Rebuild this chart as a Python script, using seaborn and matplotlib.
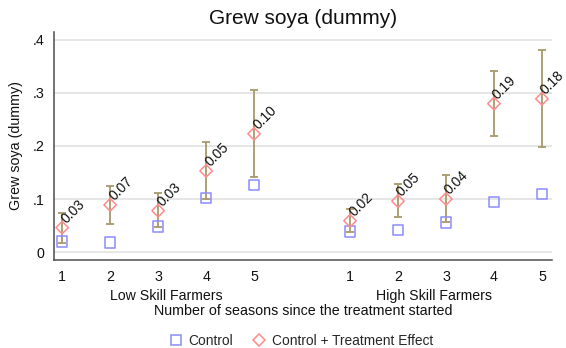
import matplotlib
matplotlib.use("Agg")
import matplotlib.pyplot as plt
import matplotlib.transforms as mtransforms
from matplotlib.markers import MarkerStyle
from matplotlib.lines import Line2D
import numpy as np
import pandas as pd
import seaborn as sns

# Seasons since the treatment started, per skill group
seasons = [1, 2, 3, 4, 5]
groups = ["Low Skill Farmers", "High Skill Farmers"]

# Control means
low_control = [0.020, 0.018, 0.048, 0.102, 0.126]
high_control = [0.039, 0.042, 0.056, 0.094, 0.109]

# Treatment effects (labelled next to the markers)
low_effect = [0.026, 0.071, 0.030, 0.051, 0.097]
high_effect = [0.020, 0.054, 0.044, 0.186, 0.180]

# Confidence interval of control + treatment effect
low_ci_lo = [0.018, 0.053, 0.048, 0.100, 0.141]
low_ci_hi = [0.073, 0.125, 0.112, 0.207, 0.306]
high_ci_lo = [0.037, 0.066, 0.057, 0.218, 0.199]
high_ci_hi = [0.082, 0.128, 0.145, 0.342, 0.381]

yticks = [0, 0.1, 0.2, 0.3, 0.4]
ytick_labels = ["0", ".1", ".2", ".3", ".4"]

# Build a long table; the high-skill block sits after a one-slot gap
rows = []
for g, (ctrl, eff, lo, hi) in enumerate([
        (low_control, low_effect, low_ci_lo, low_ci_hi),
        (high_control, high_effect, high_ci_lo, high_ci_hi)]):
    for i, s in enumerate(seasons):
        rows.append(dict(group=groups[g], season=s, pos=s + 6 * g,
                         control=ctrl[i], effect=eff[i],
                         treated=ctrl[i] + eff[i], lo=lo[i], hi=hi[i]))
df = pd.DataFrame(rows)

sns.set_style("white")
plt.rcParams["font.family"] = ["Liberation Sans", "DejaVu Sans"]

fig = plt.figure(figsize=(5.66, 3.48), dpi=100)
ax = fig.add_axes([54 / 566, 1 - 260 / 348, (552 - 54) / 566, (260 - 32) / 348])

c_ctrl = "#8c8cff"
c_trt = "#ff8c8c"
c_ci = "#a8996a"
axis_col = "#4d4d4d"
txt_col = "#111111"

ax.errorbar(df["pos"], df["treated"],
            yerr=[df["treated"] - df["lo"], df["hi"] - df["treated"]],
            fmt="none", ecolor=c_ci, elinewidth=1.3, capsize=3.2,
            capthick=1.3, zorder=2)

sns.scatterplot(data=df, x="pos", y="control", ax=ax,
                marker=MarkerStyle("s", fillstyle="none"), color=c_ctrl,
                s=55, linewidth=1.1, zorder=3)
sns.scatterplot(data=df, x="pos", y="treated", ax=ax,
                marker=MarkerStyle("D", fillstyle="none"), color=c_trt,
                s=40, linewidth=1.1, zorder=3)

# Effect labels, starting just above each diamond and rising at 45 degrees
label_tf = mtransforms.offset_copy(ax.transData, fig=fig, x=4.0, y=4.0,
                                   units="dots")
for _, r in df.iterrows():
    ax.text(r["pos"], r["treated"], f"{r['effect']:.2f}",
            transform=label_tf, rotation=45, rotation_mode="anchor",
            ha="left", va="baseline", fontsize=10, color=txt_col,
            zorder=4)

ax.set_xlim(0.83, 11.21)
ax.set_ylim(-0.015, 0.415)
ax.set_xticks(df["pos"])
ax.set_xticklabels([str(s) for s in df["season"]], fontsize=10.3)
ax.set_yticks(yticks)
ax.set_yticklabels(ytick_labels, fontsize=10.3)
ax.yaxis.grid(True, color="#e6e6e6", linewidth=1.4)
ax.set_axisbelow(True)
for side in ["top", "right"]:
    ax.spines[side].set_visible(False)
for side in ["left", "bottom"]:
    ax.spines[side].set_color(axis_col)
    ax.spines[side].set_linewidth(1.1)
ax.tick_params(axis="both", direction="out", length=4, width=1,
               color=axis_col, labelcolor=txt_col, pad=3)
ax.set_xlabel("")
ax.set_ylabel("Grew soya (dummy)", fontsize=10.3, color=txt_col, labelpad=7)

# Group names under each block of ticks, then the shared axis title
fig.text(166 / 566, 1 - 296 / 348, groups[0], ha="center", va="center",
         fontsize=10.2, color=txt_col)
fig.text(434 / 566, 1 - 296 / 348, groups[1], ha="center", va="center",
         fontsize=10.2, color=txt_col)
fig.text(303 / 566, 1 - 311 / 348,
         "Number of seasons since the treatment started",
         ha="center", va="center", fontsize=10.3, color=txt_col)

fig.text(303 / 566, 1 - 18 / 348, "Grew soya (dummy)", ha="center",
         va="center", fontsize=15, color=txt_col)

handles = [
    Line2D([], [], linestyle="none", marker="s", markersize=6.5,
           markerfacecolor="none", markeredgecolor=c_ctrl, markeredgewidth=1.1),
    Line2D([], [], linestyle="none", marker="D", markersize=6,
           markerfacecolor="none", markeredgecolor=c_trt, markeredgewidth=1.1),
]
fig.legend(handles, ["Control", "Control + Treatment Effect"],
           loc="center", bbox_to_anchor=(301 / 566, 1 - 341 / 348), ncol=2,
           frameon=False, fontsize=9.9, handlelength=1.0, handletextpad=0.4,
           columnspacing=1.4)

fig.savefig("out.png", dpi=100, facecolor="white")
